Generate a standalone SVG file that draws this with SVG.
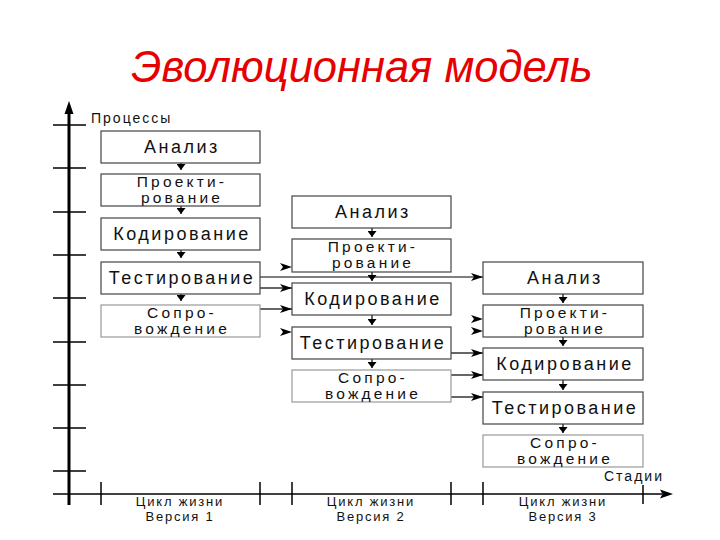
<svg xmlns="http://www.w3.org/2000/svg" width="720" height="540" viewBox="0 0 720 540">
<style>
  .title { font-family: "Liberation Sans", Arial, sans-serif; font-style: italic; font-size: 43.5px; fill: #e60000; }
  .box { fill: #fff; stroke: #444; stroke-width: 1.2; }
  .box.light { stroke: #999; }
  .bt { font-family: "Liberation Sans", Arial, sans-serif; font-size: 18px; letter-spacing: 2.5px; fill: #111; text-anchor: middle; }
  .bt2 { font-family: "Liberation Sans", Arial, sans-serif; font-size: 15.5px; letter-spacing: 3.2px; fill: #111; text-anchor: middle; }
  .ax { stroke: #000; fill: none; }
  .axl { font-family: "Liberation Sans", Arial, sans-serif; font-size: 14px; letter-spacing: 2px; fill: #111; }
  .cyc { font-family: "Liberation Sans", Arial, sans-serif; font-size: 13px; letter-spacing: 1.8px; fill: #111; text-anchor: middle; }
  .con { stroke: #000; stroke-width: 1.2; fill: none; marker-end: url(#ar); }
  .tip { stroke: none; fill: none; marker-end: url(#ar); }
  .dn { stroke: #000; stroke-width: 1.2; fill: none; marker-end: url(#ad); }
</style>
<defs>
  <marker id="ar" viewBox="0 0 12 8" markerWidth="12" markerHeight="8" markerUnits="userSpaceOnUse" refX="12" refY="4" orient="auto">
    <path d="M0,0 L12,4 L0,8 L3,4 z" fill="#000"/>
  </marker>
  <marker id="ad" viewBox="0 0 6 9" markerWidth="6" markerHeight="9" markerUnits="userSpaceOnUse" refX="6" refY="4.5" orient="auto">
    <path d="M0,0 L6,4.5 L0,9 z" fill="#000"/>
  </marker>
</defs>
<rect width="720" height="540" fill="#fff"/>

<text class="title" x="362" y="82" text-anchor="middle">Эволюционная модель</text>

<g id="axes">
  <line class="ax" x1="69" y1="112" x2="69" y2="505" stroke-width="3"/>
  <path d="M69,101 L64.5,114 L73.5,114 z" fill="#000"/>
  <g stroke="#000" stroke-width="1.5">
    <line x1="53" y1="125" x2="86" y2="125"/>
    <line x1="53" y1="168" x2="86" y2="168"/>
    <line x1="53" y1="212" x2="86" y2="212"/>
    <line x1="53" y1="255" x2="86" y2="255"/>
    <line x1="53" y1="298" x2="86" y2="298"/>
    <line x1="53" y1="342" x2="86" y2="342"/>
    <line x1="53" y1="385" x2="86" y2="385"/>
    <line x1="53" y1="428" x2="86" y2="428"/>
    <line x1="53" y1="471" x2="86" y2="471"/>
    <line x1="53" y1="494" x2="662" y2="494"/>
    <line x1="101" y1="482" x2="101" y2="505"/>
    <line x1="260" y1="482" x2="260" y2="505"/>
    <line x1="292" y1="482" x2="292" y2="505"/>
    <line x1="451" y1="482" x2="451" y2="505"/>
    <line x1="483" y1="482" x2="483" y2="505"/>
    <line x1="643" y1="485" x2="643" y2="504"/>
  </g>
  <path d="M673,494 L660,489.5 L662.5,494 L660,498.5 z" fill="#000"/>
  <text class="axl" x="91" y="123">Процессы</text>
  <text class="axl" x="604" y="481">Стадии</text>
  <text class="cyc" x="180" y="506">Цикл жизни</text>
  <text class="cyc" x="180" y="521">Версия 1</text>
  <text class="cyc" x="371" y="506">Цикл жизни</text>
  <text class="cyc" x="371" y="521">Версия 2</text>
  <text class="cyc" x="563" y="506">Цикл жизни</text>
  <text class="cyc" x="563" y="521">Версия 3</text>
</g>

<g id="connectors">
  <path class="dn" d="M181,163 L181,170"/>
  <path class="dn" d="M181,206 L181,214"/>
  <path class="dn" d="M181,250 L181,258"/>
  <path class="dn" d="M181,294 L181,301"/>
  <path class="dn" d="M372,228 L372,237"/>
  <path class="dn" d="M372,272 L372,281"/>
  <path class="dn" d="M372,315 L372,325"/>
  <path class="dn" d="M372,359 L372,368"/>
  <path class="dn" d="M563,294 L563,303"/>
  <path class="dn" d="M563,337 L563,346"/>
  <path class="dn" d="M563,380 L563,390"/>
  <path class="dn" d="M563,424 L563,433"/>
  <path class="tip" d="M282,267 L292,267"/>
  <path class="con" d="M260,277 L483,277"/>
  <path class="con" d="M260,288 L292,288"/>
  <path class="con" d="M260,309 L292,309"/>
  <path class="tip" d="M282,332 L292,332"/>
  <path class="tip" d="M473,319 L483,319"/>
  <path class="tip" d="M473,331 L483,331"/>
  <path class="con" d="M451,353 L483,353"/>
  <path class="con" d="M451,375 L483,375"/>
  <path class="con" d="M451,397 L483,397"/>
</g>

<g id="v1-analysis"><rect class="box" x="101" y="131" width="159" height="32"/><text class="bt" x="182" y="153">Анализ</text></g>
<g id="v1-design"><rect class="box" x="101" y="174" width="159" height="32"/><text class="bt2" x="182" y="187">Проекти-</text><text class="bt2" x="182" y="203">рование</text></g>
<g id="v1-coding"><rect class="box" x="101" y="218" width="159" height="32"/><text class="bt" x="182" y="240">Кодирование</text></g>
<g id="v1-testing"><rect class="box" x="101" y="262" width="159" height="32"/><text class="bt" x="182" y="284">Тестирование</text></g>
<g id="v1-support"><rect class="box light" x="101" y="305" width="159" height="32"/><text class="bt2" x="182" y="318">Сопро-</text><text class="bt2" x="182" y="334">вождение</text></g>

<g id="v2-analysis"><rect class="box" x="292" y="196" width="159" height="32"/><text class="bt" x="373" y="218">Анализ</text></g>
<g id="v2-design"><rect class="box" x="292" y="239" width="159" height="33"/><text class="bt2" x="373" y="252">Проекти-</text><text class="bt2" x="373" y="268">рование</text></g>
<g id="v2-coding"><rect class="box" x="292" y="283" width="159" height="32"/><text class="bt" x="373" y="305">Кодирование</text></g>
<g id="v2-testing"><rect class="box" x="292" y="327" width="159" height="32"/><text class="bt" x="373" y="349">Тестирование</text></g>
<g id="v2-support"><rect class="box light" x="292" y="370" width="159" height="32"/><text class="bt2" x="373" y="383">Сопро-</text><text class="bt2" x="373" y="399">вождение</text></g>

<g id="v3-analysis"><rect class="box" x="483" y="262" width="160" height="32"/><text class="bt" x="565" y="284">Анализ</text></g>
<g id="v3-design"><rect class="box" x="483" y="305" width="160" height="32"/><text class="bt2" x="565" y="318">Проекти-</text><text class="bt2" x="565" y="334">рование</text></g>
<g id="v3-coding"><rect class="box" x="483" y="348" width="160" height="32"/><text class="bt" x="565" y="370">Кодирование</text></g>
<g id="v3-testing"><rect class="box" x="483" y="392" width="160" height="32"/><text class="bt" x="565" y="414">Тестирование</text></g>
<g id="v3-support"><rect class="box light" x="483" y="435" width="160" height="32"/><text class="bt2" x="565" y="448">Сопро-</text><text class="bt2" x="565" y="464">вождение</text></g>
</svg>
